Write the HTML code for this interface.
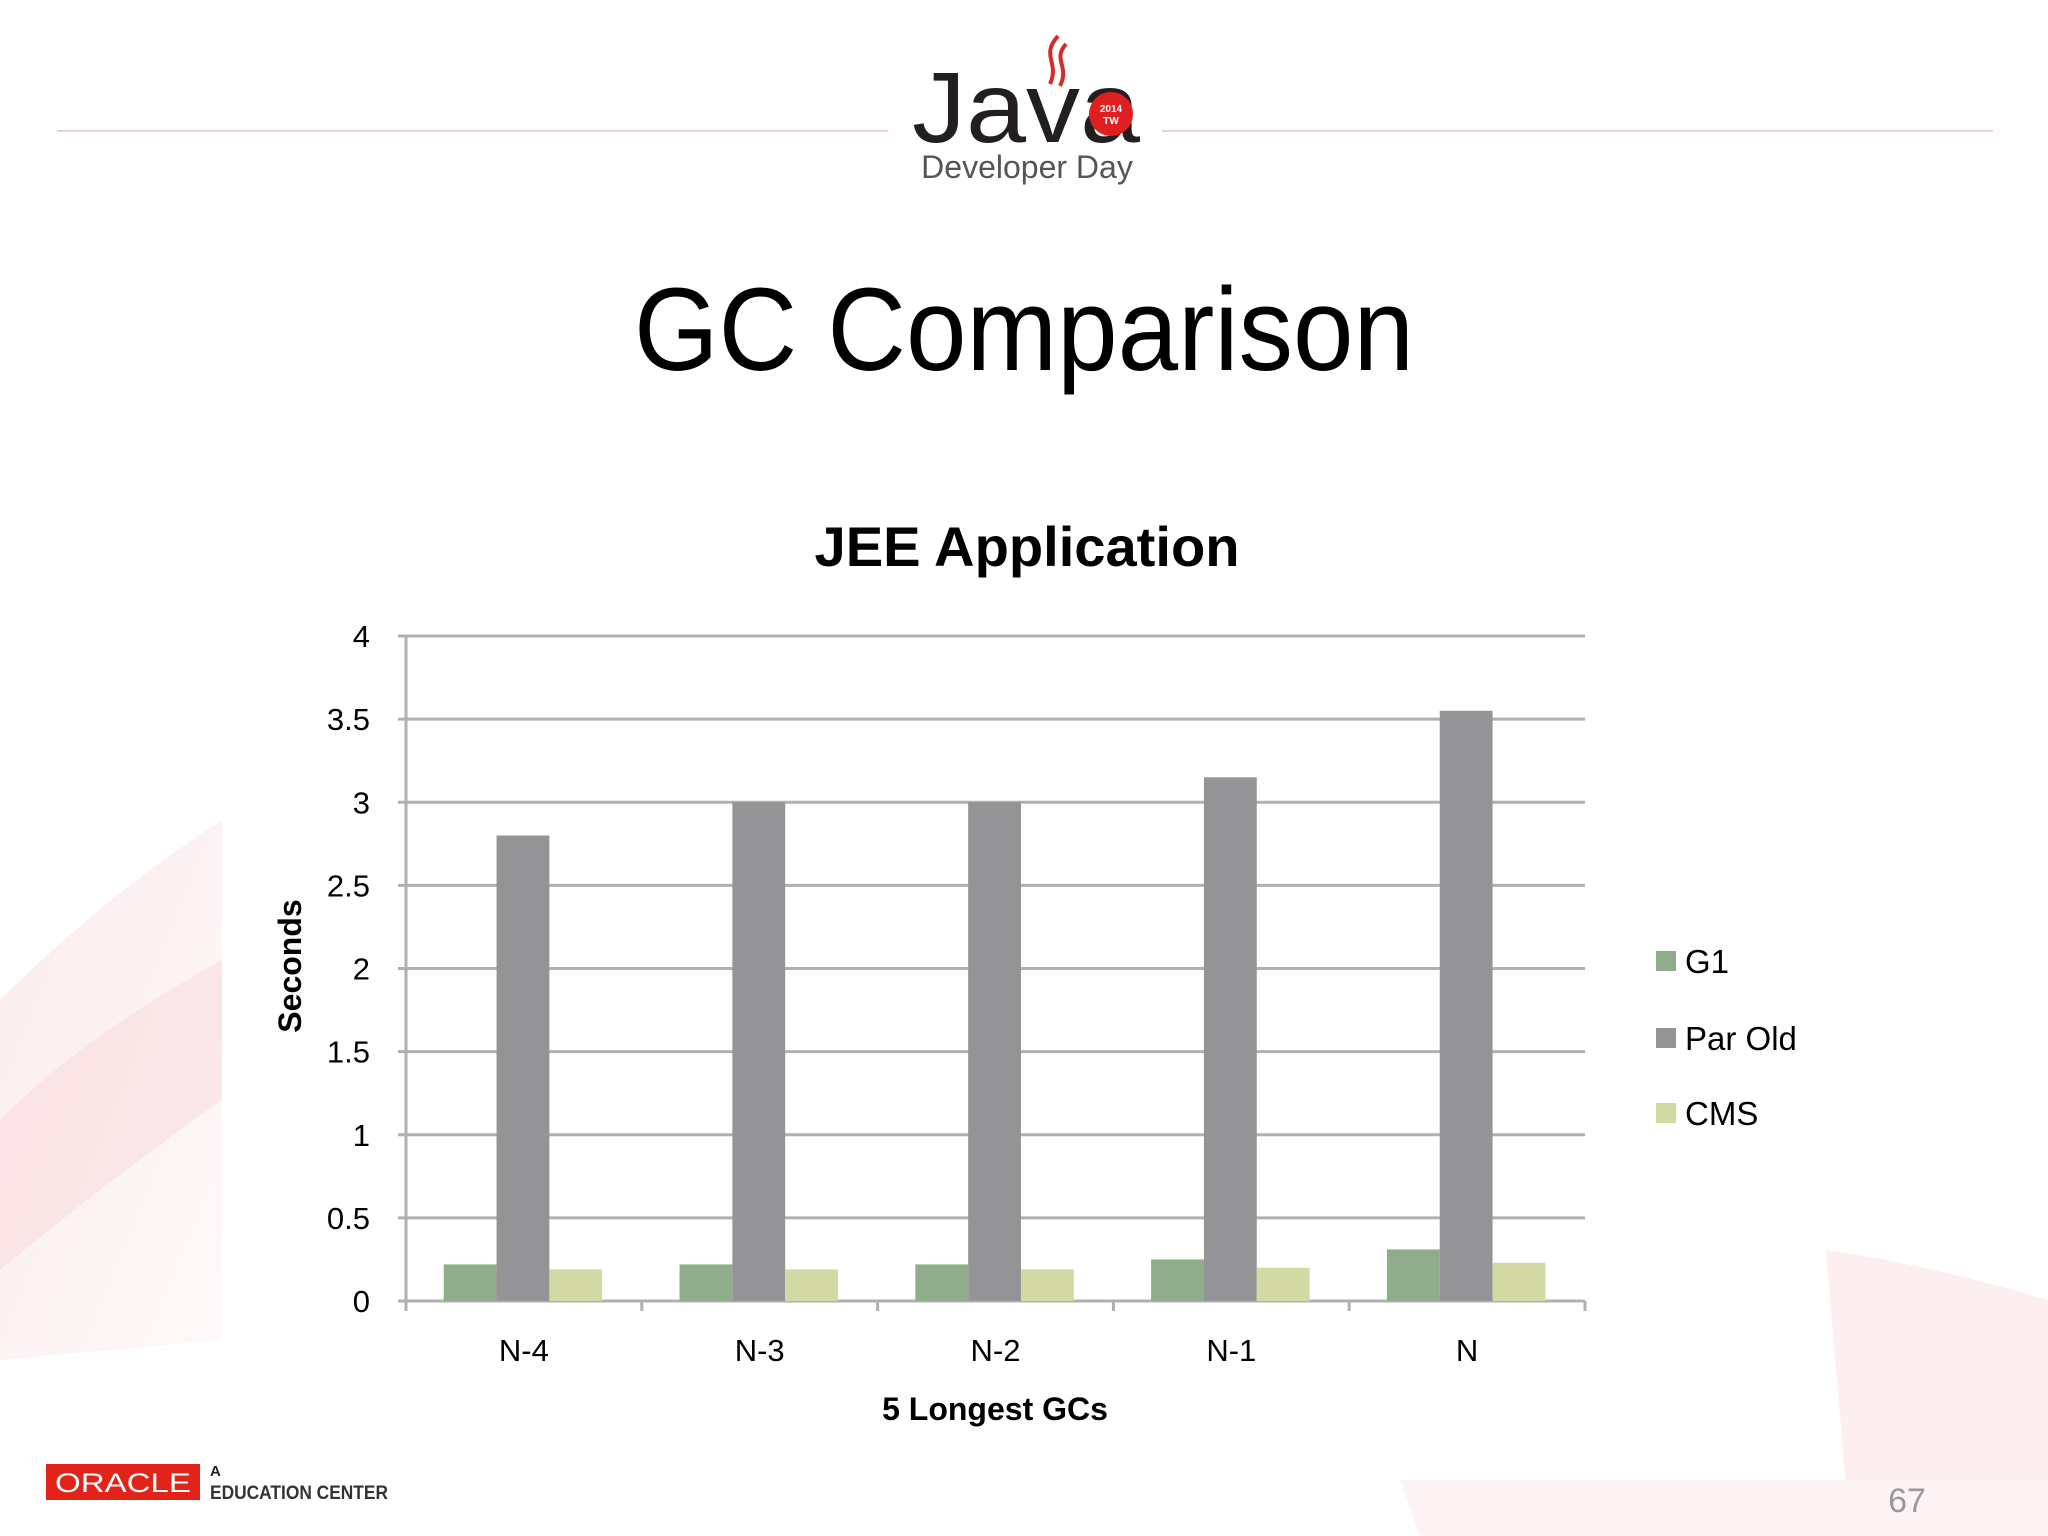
<!DOCTYPE html>
<html><head><meta charset="utf-8"><style>
html,body{margin:0;padding:0;background:#fff;}
#root{position:relative;width:2048px;height:1536px;overflow:hidden;background:#fff;font-family:"Liberation Sans",sans-serif;}
</style></head><body>
<div id="root">
<svg width="2048" height="1536" viewBox="0 0 2048 1536" xmlns="http://www.w3.org/2000/svg">
<defs>
<linearGradient id="pl" x1="0" y1="0" x2="1" y2="1"><stop offset="0" stop-color="#f9dde0"/><stop offset="1" stop-color="#fdf3f4"/></linearGradient>
</defs>
<g>
<path d="M0 1000 C80 920 160 860 222 820 L222 1340 L0 1360 Z" fill="url(#pl)" opacity="0.55"/>
<path d="M0 1120 C70 1050 150 1000 222 960 L222 1100 C150 1150 60 1220 0 1270 Z" fill="#f4c6cb" opacity="0.3"/>
<path d="M1826 1250 C1900 1260 1980 1280 2048 1300 L2048 1536 L1850 1536 Z" fill="#fbe4e6" opacity="0.6"/>
<path d="M1400 1480 L2048 1480 L2048 1536 L1420 1536 Z" fill="#fdf3f4"/>
</g>
<g>
<line x1="57" y1="131" x2="888" y2="131" stroke="#f0cfd4" stroke-width="2"/>
<line x1="1162" y1="131" x2="1993" y2="131" stroke="#f0cfd4" stroke-width="2"/>
<text x="1026" y="142" text-anchor="middle" font-size="100" fill="#231f20" font-family="Liberation Sans" textLength="228" lengthAdjust="spacingAndGlyphs">Java</text>
<circle cx="1111" cy="114" r="22" fill="#e02020"/>
<text x="1111" y="112" text-anchor="middle" font-size="10" fill="#fff" font-weight="bold">2014</text>
<text x="1111" y="124" text-anchor="middle" font-size="10" fill="#fff" font-weight="bold">TW</text>
<path d="M1058 36 C1040 56 1060 62 1050 84 M1066 44 C1052 60 1070 66 1060 86" stroke="#d52b2b" stroke-width="4" fill="none"/>
<text x="1027" y="178" text-anchor="middle" font-size="32" fill="#555">Developer Day</text>
</g>
<text x="1024" y="370" text-anchor="middle" font-size="118" fill="#000" textLength="780" lengthAdjust="spacingAndGlyphs">GC Comparison</text>
<rect x="222" y="495" width="1604" height="985" fill="#fff"/>
<text x="1027" y="566" text-anchor="middle" font-size="56" font-weight="bold" fill="#000" textLength="425" lengthAdjust="spacingAndGlyphs">JEE Application</text>
<g id="chart"></g>
<g>
<rect x="46" y="1464" width="154" height="36" fill="#e2231a"/>
<text x="123" y="1492" text-anchor="middle" font-size="27" fill="#fff" textLength="136" lengthAdjust="spacingAndGlyphs">ORACLE</text>
<text x="210" y="1476" font-size="15" font-weight="bold" fill="#222">A</text>
<text x="210" y="1499" font-size="19" font-weight="bold" fill="#333" textLength="178" lengthAdjust="spacingAndGlyphs">EDUCATION CENTER</text>
<text x="1907" y="1512" text-anchor="middle" font-size="34" fill="#999">67</text>
</g>
</svg>
</div>
<script>
const categories = ["N-4","N-3","N-2","N-1","N"];
const seriesNames = ["G1","Par Old","CMS"];
const g1Values = [0.22,0.22,0.22,0.25,0.31];
const parOldValues = [2.8,3.0,3.0,3.15,3.55];
const cmsValues = [0.19,0.19,0.19,0.2,0.23];
const yTicks = [0,0.5,1,1.5,2,2.5,3,3.5,4];
const yTickLabels = ["0","0.5","1","1.5","2","2.5","3","3.5","4"];

const NS="http://www.w3.org/2000/svg";
const chart=document.getElementById('chart');
const X0=406,X1=1585,Y0=1301,YT=636,YMAX=4;
const y=v=>Y0-(v/YMAX)*(Y0-YT);
const gw=(X1-X0)/categories.length;
const xg=i=>X0+i*gw;
const colors=["#8fad8a","#949396","#d3d9a3"];
const series=[g1Values,parOldValues,cmsValues];
function mk(tag,attrs){const e=document.createElementNS(NS,tag);for(const k in attrs)e.setAttribute(k,attrs[k]);chart.appendChild(e);return e;}
yTicks.forEach((t,i)=>{
  const l=mk('line',{x1:X0-8,x2:X1,y1:y(t),y2:y(t),stroke:'#b0b0b0','stroke-width':3});
  
  
  const tx=mk('text',{x:370,y:y(t)+11,'text-anchor':'end','font-size':31,fill:'#000'});
  tx.textContent=yTickLabels[i];
  
  
});
const ya=mk('line',{x1:X0,x2:X0,y1:YT,y2:Y0,stroke:'#b0b0b0','stroke-width':3});


for(let i=0;i<=categories.length;i++){
  const t=mk('line',{x1:xg(i),x2:xg(i),y1:Y0,y2:Y0+10,stroke:'#b0b0b0','stroke-width':3});
  
  
}
const bw=gw*0.224, off=gw*0.16;
categories.forEach((c,i)=>{
  series.forEach((s,j)=>{
    const r=mk('rect',{x:xg(i)+off+j*bw,y:y(s[i]),width:bw,height:Y0-y(s[i]),fill:colors[j]});
    
    
  });
  const tx=mk('text',{x:xg(i)+gw/2,y:1361,'text-anchor':'middle','font-size':31,fill:'#000'});
  tx.textContent=c;
  
  
});
const xt=mk('text',{x:995,y:1420,'text-anchor':'middle','font-size':32,'font-weight':'bold',fill:'#000'});
xt.textContent="5 Longest GCs";


const yt=mk('text',{x:0,y:0,'text-anchor':'middle','font-size':32,'font-weight':'bold',fill:'#000',transform:'translate(301,966) rotate(-90)'});
yt.textContent="Seconds";


const ly=[961,1038,1113];
seriesNames.forEach((n,j)=>{
  const r=mk('rect',{x:1656,y:ly[j]-10,width:20,height:20,fill:colors[j]});
  
  
  const tx=mk('text',{x:1685,y:ly[j]+12,'font-size':33,fill:'#000'});
  tx.textContent=n;
  
  
});
</script>
</body></html>
